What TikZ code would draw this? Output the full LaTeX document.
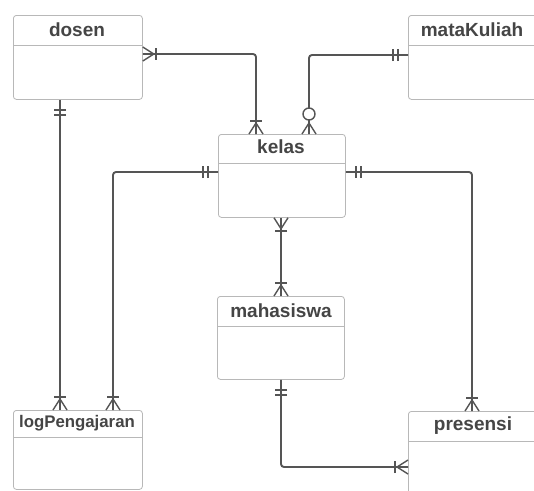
\documentclass[tikz,border=0pt]{standalone}
\usepackage{fontspec}
\setmainfont{Liberation Sans}
\definecolor{boxgray}{HTML}{B8B8B8}
\definecolor{txtgray}{HTML}{454545}
\definecolor{lngray}{HTML}{555555}
\tikzset{
  entity/.style={draw=boxgray, line width=0.8pt, rounded corners=3pt, fill=white, inner sep=0pt, anchor=north west},
  divider/.style={draw=boxgray, line width=0.7pt},
  title/.style={font=\fontsize{19}{22}\selectfont\bfseries, text=txtgray, inner sep=0pt},
  conn/.style={draw=lngray, line width=1.9pt, rounded corners=3pt},
  erline/.style={draw=lngray, line width=1.4pt},
  onemany/.pic={\draw[erline] (0,-7) -- (11,0) -- (0,7); \draw[erline] (13,-6) -- (13,6);},
  oneone/.pic={\draw[erline] (10,-6) -- (10,6); \draw[erline] (15,-6) -- (15,6);},
  zeromany/.pic={\draw[erline] (0,-7) -- (11,0) -- (0,7); \draw[erline, fill=white] (20,0) circle (6);},
}
\begin{document}
\begin{tikzpicture}[x=1pt,y=-1pt]
\useasboundingbox (0,0) rectangle (534,490);
\fill[white] (0,0) rectangle (534,490);
\clip (0,0) rectangle (534,490);
% entities
\node[entity, minimum width=129pt, minimum height=84pt] (dosen) at (13,15) {};
\node[entity, minimum width=130pt, minimum height=84pt] (mataKuliah) at (408,15) {};
\node[entity, minimum width=127pt, minimum height=83pt] (kelas) at (218,134) {};
\node[entity, minimum width=127pt, minimum height=83pt] (mahasiswa) at (217,296) {};
\node[entity, minimum width=129pt, minimum height=79pt] (logPengajaran) at (13,410) {};
\node[entity, minimum width=130pt, minimum height=90pt] (presensi) at (408,411) {};
% dividers
\draw[divider] (dosen.west |- 0,45) -- (dosen.east |- 0,45);
\draw[divider] (mataKuliah.west |- 0,45) -- (mataKuliah.east |- 0,45);
\draw[divider] (kelas.west |- 0,163) -- (kelas.east |- 0,163);
\draw[divider] (mahasiswa.west |- 0,326) -- (mahasiswa.east |- 0,326);
\draw[divider] (logPengajaran.west |- 0,437) -- (logPengajaran.east |- 0,437);
\draw[divider] (presensi.west |- 0,441) -- (presensi.east |- 0,441);
% titles
\node[title] (tdosen) at (77,30) {dosen};
\node[title] (tmataKuliah) at (472,30) {mataKuliah};
\node[title] (tkelas) at (281,147) {kelas};
\node[title] (tmahasiswa) at (281,311) {mahasiswa};
\node[title, font=\fontsize{16.8}{20}\selectfont\bfseries] (tlog) at (77,423) {logPengajaran};
\node[title] (tpresensi) at (473,426) {presensi};
% connectors
\draw[conn] (dosen.east |- 0,54) -| (kelas.north -| 256,0);
\draw[conn] (mataKuliah.west |- 0,55) -| (kelas.north -| 309,0);
\draw[conn] (kelas.west |- 0,172) -| (logPengajaran.north -| 113,0);
\draw[conn] (kelas.east |- 0,172) -| (presensi.north -| 472,0);
\draw[conn] (kelas.south -| 281,0) -- (mahasiswa.north -| 281,0);
\draw[conn] (dosen.south -| 60,0) -- (logPengajaran.north -| 60,0);
\draw[conn] (mahasiswa.south -| 281,0) |- (presensi.west |- 0,467);
% end marks
\pic[rotate=0] at (dosen.east |- 0,54) {onemany};
\pic[rotate=90] at (kelas.north -| 256,0) {onemany};
\pic[rotate=180] at (mataKuliah.west |- 0,55) {oneone};
\pic[rotate=90] at (kelas.north -| 309,0) {zeromany};
\pic[rotate=180] at (kelas.west |- 0,172) {oneone};
\pic[rotate=90] at (logPengajaran.north -| 113,0) {onemany};
\pic[rotate=0] at (kelas.east |- 0,172) {oneone};
\pic[rotate=90] at (presensi.north -| 472,0) {onemany};
\pic[rotate=-90] at (kelas.south -| 281,0) {onemany};
\pic[rotate=90] at (mahasiswa.north -| 281,0) {onemany};
\pic[rotate=-90] at (dosen.south -| 60,0) {oneone};
\pic[rotate=90] at (logPengajaran.north -| 60,0) {onemany};
\pic[rotate=-90] at (mahasiswa.south -| 281,0) {oneone};
\pic[rotate=180] at (presensi.west |- 0,467) {onemany};
\end{tikzpicture}
\end{document}
